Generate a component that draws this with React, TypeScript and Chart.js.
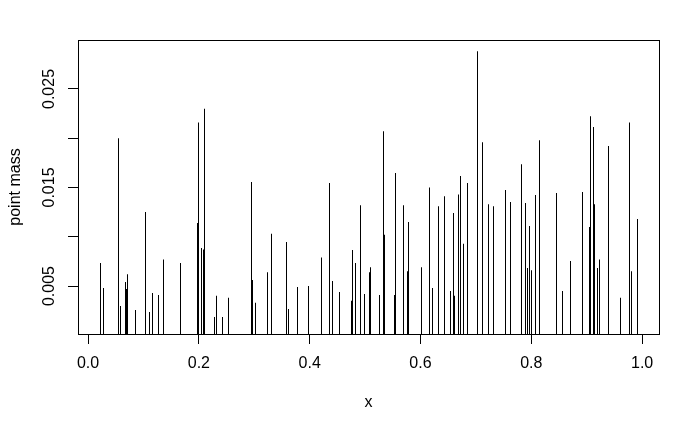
import React, { useEffect, useRef } from "react";
import { Chart, registerables } from "chart.js";

Chart.register(...registerables);

const xValues: number[] = [
  0.0223, 0.027, 0.0547, 0.0577, 0.0667, 0.0685, 0.0703, 0.0847, 0.1045, 0.11,
  0.117, 0.128, 0.137, 0.1676, 0.198, 0.2, 0.2054, 0.209, 0.2108, 0.2288,
  0.2324, 0.2432, 0.254, 0.2955, 0.2973, 0.3027, 0.3243, 0.3315, 0.3586, 0.3622,
  0.3784, 0.398, 0.4216, 0.436, 0.4414, 0.454, 0.4757, 0.4775, 0.4829, 0.4919,
  0.499, 0.508, 0.51, 0.526, 0.5333, 0.535, 0.553, 0.555, 0.5694, 0.5766,
  0.5784, 0.6018, 0.6162, 0.6216, 0.6324, 0.6432, 0.654, 0.6595, 0.6613, 0.6685,
  0.6721, 0.6775, 0.6847, 0.7027, 0.7117, 0.7225, 0.7315, 0.7532, 0.7622, 0.782,
  0.789, 0.7928, 0.7964, 0.8, 0.8072, 0.8144, 0.845, 0.8559, 0.8703, 0.8919,
  0.9045, 0.9063, 0.9117, 0.913, 0.9142, 0.9189, 0.9225, 0.9387, 0.9604, 0.9766,
  0.9802, 0.991,
];

const pointMass: number[] = [
  0.00733, 0.0048, 0.02, 0.00297, 0.0054, 0.0047, 0.0062, 0.00257, 0.0125, 0.00236,
  0.0043, 0.0041, 0.0077, 0.00733, 0.0114, 0.0216, 0.00885, 0.0087, 0.023, 0.00185,
  0.004, 0.00185, 0.0038, 0.01555, 0.0056, 0.0033, 0.0064, 0.0103, 0.00946, 0.00267,
  0.0049, 0.005, 0.0079, 0.01545, 0.0055, 0.0044, 0.0035, 0.00865, 0.00733, 0.0132,
  0.0042, 0.0064, 0.0069, 0.0041, 0.0207, 0.0102, 0.0041, 0.01646, 0.0132, 0.0065,
  0.0115, 0.0069, 0.015, 0.0048, 0.0131, 0.0141, 0.0045, 0.0124, 0.004, 0.0143,
  0.01616, 0.0093, 0.01545, 0.02883, 0.0196, 0.0133, 0.0131, 0.01474, 0.01352, 0.01737,
  0.01342, 0.00683, 0.0111, 0.0066, 0.01423, 0.0198, 0.01443, 0.0045, 0.00754, 0.01453,
  0.011, 0.02224, 0.02113, 0.01494, 0.0133, 0.00683, 0.0077, 0.0192, 0.0038, 0.0216,
  0.0065, 0.0118,
];

const xTicks: number[] = [0, 0.2, 0.4, 0.6, 0.8, 1.0];
const yTicks: number[] = [0.005, 0.01, 0.015, 0.02, 0.025];
const yTickLabels: Record<string, string> = { "0.005": "0.005", "0.015": "0.015", "0.025": "0.025" };

const FONT = "'Liberation Sans', Arial, sans-serif";

const boxPlugin = {
  id: "boxPlugin",
  afterDraw(chart: any) {
    const { ctx, chartArea } = chart;
    ctx.save();
    ctx.strokeStyle = "#000";
    ctx.lineWidth = 1;
    const l = Math.round(chartArea.left) + 0.5;
    const t = Math.round(chartArea.top) + 0.5;
    const r = Math.round(chartArea.right) + 0.5;
    const b = Math.round(chartArea.bottom) + 0.5;
    ctx.strokeRect(l, t, r - l, b - t);
    ctx.restore();
  },
};

// snap the 1px stems (positions from the x scale) onto whole pixels so they stay crisp
const snapPlugin = {
  id: "snapPlugin",
  beforeDatasetsDraw(chart: any) {
    chart.getSortedVisibleDatasetMetas().forEach((meta: any) => {
      meta.data.forEach((el: any) => {
        el.x = Math.floor(el.x) + 0.5;
      });
    });
  },
};

export default function App() {
  const ref = useRef<HTMLCanvasElement | null>(null);
  useEffect(() => {
    if (!ref.current) return;
    const data = xValues.map((x, i) => ({ x, y: pointMass[i] }));
    const chart = new Chart(ref.current, {
      type: "bar",
      data: {
        datasets: [
          {
            data,
            backgroundColor: "#000",
            borderWidth: 0,
            barThickness: 1,
            inflateAmount: 0,
            base: 0,
          } as any,
        ],
      },
      options: {
        animation: false,
        responsive: false,
        maintainAspectRatio: false,
        layout: { padding: { top: 40, right: 41, left: 0, bottom: 0 } },
        plugins: { legend: { display: false }, tooltip: { enabled: false } },
        scales: {
          x: {
            type: "linear",
            min: -0.0182,
            max: 1.0305,
            offset: false,
            afterBuildTicks: (s: any) => {
              s.ticks = xTicks.map((v) => ({ value: v }));
            },
            afterFit: (s: any) => {
              s.height = 98;
            },
            grid: { offset: false, drawOnChartArea: false, drawTicks: true, tickLength: 10, color: "#000", lineWidth: 1 },
            border: { display: false },
            ticks: {
              color: "#000",
              font: { family: FONT, size: 16 },
              padding: 10,
              maxRotation: 0,
              autoSkip: false,
              callback: (v: any) => Number(v).toFixed(1),
            },
            title: {
              display: true,
              text: "x",
              color: "#000",
              font: { family: FONT, size: 16 },
              padding: { top: 0, bottom: 20 },
            },
          },
          y: {
            type: "linear",
            min: 0.00013,
            max: 0.02997,
            afterBuildTicks: (s: any) => {
              s.ticks = yTicks.map((v) => ({ value: v }));
            },
            afterFit: (s: any) => {
              s.width = 78;
            },
            grid: { drawOnChartArea: false, drawTicks: true, tickLength: 10, color: "#000", lineWidth: 1 },
            border: { display: false },
            ticks: {
              color: "#000",
              font: { family: FONT, size: 16 },
              padding: -2,
              minRotation: 90,
              maxRotation: 90,
              crossAlign: "center",
              autoSkip: false,
              callback: (v: any) => yTickLabels[Number(v).toFixed(3)] ?? "",
            },
            title: {
              display: true,
              text: "point mass",
              color: "#000",
              font: { family: FONT, size: 16 },
              padding: { top: 6, bottom: 0 },
            },
          },
        },
      },
      plugins: [boxPlugin, snapPlugin],
    });
    return () => chart.destroy();
  }, []);
  return (
    <div style={{ position: "absolute", left: 0, top: 0, width: 700, height: 432, background: "#fff" }}>
      <canvas ref={ref} width={700} height={432} style={{ width: 700, height: 432 }} />
    </div>
  );
}
